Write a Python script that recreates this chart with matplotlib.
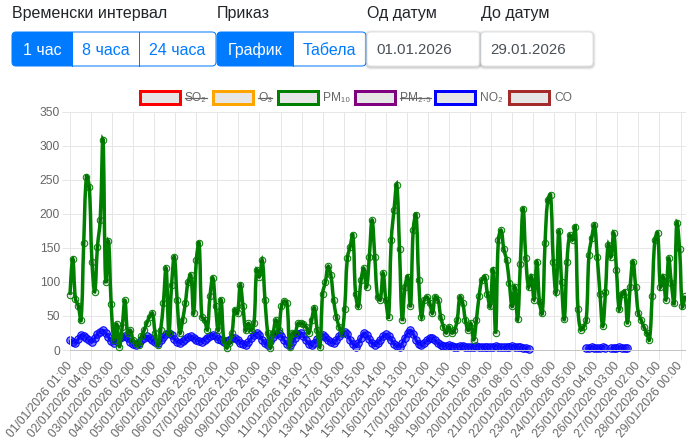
import numpy as np
import matplotlib
matplotlib.use('Agg')
import matplotlib.pyplot as plt
from matplotlib.path import Path
from matplotlib.patches import PathPatch, FancyBboxPatch, Rectangle
from matplotlib.lines import Line2D
from matplotlib.transforms import IdentityTransform

plt.rcParams['font.family'] = ['Liberation Sans', 'DejaVu Sans']

W, H = 686, 440
PT = 0.72  # 1 px u tackama (dpi 100)

# ---- podaci: jedna vrednost na svaka 3 sata (indeks = redni broj sata) ----
korak = 3
pm10 = [
    81, 134, 75, 65, 44, 158, 255, 240, 130, 86, 152, 191, 309, 100, 160,
    67, 15, 38, 5, 34, 73,
    25, 29, 15, 10, 7, 20, 29, 40, 49, 54, 25, 7, 29, 69,
    120, 25, 96, 137, 74, 25, 44, 69, 100, 110, 54, 132, 157,
    49, 44, 30, 80, 106, 64, 29, 74, 15, 3, 10, 25, 59,
    54, 96, 64, 29, 39, 29, 39, 118, 108, 132, 74, 25, 3, 25, 44,
    29, 64, 72, 69, 5, 25, 25, 39, 39, 38, 34, 25, 44, 62, 29, 5,
    83, 100, 123, 110, 74, 49, 34, 25,
    60, 135, 152, 169, 83, 64, 103, 120, 93, 137, 191, 137, 78, 74, 113, 74,
    49, 162, 206, 243, 148, 44, 93, 108, 64, 177, 199, 103, 48, 74, 78,
    69, 54, 78, 74, 49, 34, 25, 34, 25, 29, 44, 78, 69, 44, 29, 39, 15, 44,
    80, 103, 108, 83, 64, 118, 25, 162, 176, 148, 132, 98, 64, 93, 45, 127, 208,
    135, 93, 108, 74, 130, 70, 54, 157, 221, 228, 130, 85, 175, 100, 45,
    130, 169, 162, 181, 60, 30, 34, 44, 140, 165, 184, 137, 83, 35, 85,
    155, 137, 172, 118, 60, 83, 86, 40, 93, 130, 93, 54, 44, 34, 25,
    15, 80, 162, 172, 93, 108, 74, 135, 98, 69, 187, 148, 64, 80,
]

no2 = [
    15, 12, 10, 16, 22, 21, 18, 14,
    12, 17, 23, 27, 29, 25, 19, 13,
    10, 13, 17, 19, 20, 17, 12, 9,
    7, 11, 15, 18, 20, 18, 14, 12,
    10, 14, 19, 23, 25, 22, 16, 12,
    10, 13, 16, 19, 20, 18, 15, 13,
    12, 15, 18, 21, 22, 20, 16, 14,
    12, 13, 15, 17, 18, 15, 11, 9,
    7, 12, 17, 22, 25, 22, 15, 10,
    8, 13, 19, 23, 25, 21, 14, 9,
    7, 12, 18, 23, 25, 21, 14, 9,
    7, 11, 16, 20, 22, 19, 14, 12,
    10, 15, 21, 25, 27, 23, 15, 9,
    5, 10, 18, 25, 22, 16, 10, 7,
    10, 15, 20, 23, 21, 15, 9, 6,
    5, 10, 18, 25, 29, 24, 15, 9,
    7, 10, 14, 17, 18, 14, 10, 7,
    6, 6, 7, 6, 5, 5, 6, 6,
    5, 5, 4, 5, 6, 5, 5, 4,
    4, 5, 5, 6, 5, 4, 4, 5,
    5, 6, 5, 4, 4, 3, 3, 2,
    None, None, None, None, None, None, None, None, None, None,
    None, None, None, None, None, None, None, None, None, None,
    3, 3, 4, 3, 3, 3, 4, 3,
    None,
    3, 3, 3, 4, 3, 3, 3,
]

oznake = [
    '01/01/2026 01:00', '02/01/2026 04:00', '03/01/2026 03:00', '04/01/2026 02:00',
    '05/01/2026 01:00', '06/01/2026 00:00', '06/01/2026 23:00', '07/01/2026 22:00',
    '08/01/2026 21:00', '09/01/2026 20:00', '10/01/2026 19:00', '11/01/2026 18:00',
    '12/01/2026 17:00', '13/01/2026 16:00', '14/01/2026 15:00', '15/01/2026 14:00',
    '16/01/2026 13:00', '17/01/2026 12:00', '18/01/2026 11:00', '19/01/2026 10:00',
    '20/01/2026 09:00', '21/01/2026 08:00', '22/01/2026 07:00', '23/01/2026 06:00',
    '24/01/2026 05:00', '25/01/2026 04:00', '26/01/2026 03:00', '27/01/2026 02:00',
    '28/01/2026 01:00', '29/01/2026 00:00',
]
poz_oznaka = list(range(0, 23 * len(oznake), 23))

legenda = [
    ('SO₂', 'red', True), ('O₃', 'orange', True), ('PM₁₀', 'green', False),
    ('PM₂.₅', 'purple', True), ('NO₂', 'blue', False), ('CO', 'brown', False),
]
legenda_x = [140, 213, 278, 355, 435, 509]

fig = plt.figure(figsize=(W / 100, H / 100), dpi=100)
ID = IdentityTransform()

ax = fig.add_axes([70 / W, (H - 350) / H, (W - 70) / W, (350 - 112) / H])
ax.set_xlim(0, 673)
ax.set_ylim(0, 350)
ax.set_yticks(range(0, 351, 50))
ax.set_xticks(poz_oznaka)
ax.set_xticklabels(oznake, rotation=50, ha='right', va='center', rotation_mode='anchor')
ax.tick_params(axis='both', width=PT, color='#e6e6e6',
               labelsize=12 * PT, labelcolor='#666666',
               grid_color='#e6e6e6', grid_linewidth=PT)
ax.tick_params(axis='x', length=10 * PT, pad=4 * PT)
ax.tick_params(axis='y', length=8 * PT, pad=2 * PT)
ax.grid(True)
ax.set_axisbelow(True)
for s in ['top', 'right']:
    ax.spines[s].set_visible(False)
ax.spines['left'].set_color('#e6e6e6')
ax.spines['bottom'].set_color('#c4c4c4')
ax.spines['left'].set_linewidth(PT)
ax.spines['bottom'].set_linewidth(PT)


def kriva(xs, ys, t=0.4):
    # bezier kao u Chart.js (tension 0.4), racunato u pikselima
    p = ax.transData.transform(np.column_stack([xs, ys]))
    cp_pre = p.copy()
    cp_posle = p.copy()
    for i in range(1, len(p) - 1):
        d01 = np.hypot(*(p[i] - p[i - 1]))
        d12 = np.hypot(*(p[i + 1] - p[i]))
        if d01 + d12 == 0:
            continue
        cp_pre[i] = p[i] - t * d01 / (d01 + d12) * (p[i + 1] - p[i - 1])
        cp_posle[i] = p[i] + t * d12 / (d01 + d12) * (p[i + 1] - p[i - 1])
    verts = [p[0]]
    codes = [Path.MOVETO]
    for i in range(len(p) - 1):
        verts += [cp_posle[i], cp_pre[i + 1], p[i + 1]]
        codes += [Path.CURVE4] * 3
    return Path(ax.transData.inverted().transform(np.array(verts)), codes)


def serija(vals, boja, z, lw, ms, mfc):
    v = np.array([np.nan if a is None else a for a in vals], dtype=float)
    x = np.arange(len(v)) * korak
    ok = ~np.isnan(v)
    # razdvoji na neprekidne delove
    granice = np.flatnonzero(np.diff(np.r_[0, ok.astype(int), 0]))
    for a, b in zip(granice[::2], granice[1::2]):
        xs, ys = x[a:b], v[a:b]
        if len(xs) > 1:
            ax.add_patch(PathPatch(kriva(xs, ys), fc='none', ec=boja, lw=lw * PT,
                                   zorder=z, clip_on=False))
        ax.plot(xs, ys, 'o', ms=ms * PT, mec=boja, mfc=mfc, mew=PT,
                zorder=z + 0.1, clip_on=False)


serija(no2, 'blue', 2, 3, 7.5, (0.1, 0.1, 1, 0.55))
serija(pm10, 'green', 3, 3.5, 6.5, (0, 0, 0, 0.1))

# ---- legenda ----
fig.canvas.draw()
rend = fig.canvas.get_renderer()
for (ime, boja, skriven), bx in zip(legenda, legenda_x):
    fig.add_artist(Rectangle((bx, H - 104), 40, 13, fc='#e6e6e6', ec=boja,
                             lw=3 * PT, transform=ID))
    t = fig.text(bx + 45, H - 97.5, ime, transform=ID, fontsize=12 * PT,
                 color='#666666', va='center', ha='left')
    if skriven:
        bb = t.get_window_extent(rend)
        ym = (bb.y0 + bb.y1) / 2
        fig.add_artist(Line2D([bb.x0, bb.x1], [ym, ym], color='#666666',
                              lw=1.2 * PT, transform=ID))

# ---- kontrole iznad grafika ----
PLAVA = '#007bff'


def dugmad(delovi, aktivan):
    x0, x1 = delovi[0][0], delovi[-1][1]
    okvir = FancyBboxPatch((x0, H - 66), x1 - x0, 34,
                           boxstyle='round,pad=0,rounding_size=4',
                           fc='white', ec=PLAVA, lw=PT, transform=ID)
    fig.add_artist(okvir)
    for i, (a, b, tekst) in enumerate(delovi):
        if i == aktivan:
            r = Rectangle((a, H - 66), b - a, 34, fc=PLAVA, ec='none', transform=ID)
            fig.add_artist(r)
            r.set_clip_path(okvir)
        if i > 0:
            fig.add_artist(Line2D([a, a], [H - 66, H - 32], color=PLAVA, lw=PT,
                                  transform=ID))
        fig.text((a + b) / 2, H - 55, tekst, transform=ID, fontsize=16 * PT,
                 color='white' if i == aktivan else PLAVA, ha='center', va='baseline')


def polje(a, b, tekst):
    for k, al in [(3, 0.04), (2, 0.06), (1, 0.09)]:
        fig.add_artist(FancyBboxPatch((a - k, H - 66 - k - 1), b - a + 2 * k, 34 + 2 * k,
                                      boxstyle='round,pad=0,rounding_size=%d' % (4 + k),
                                      fc=(0, 0, 0, al), ec='none', transform=ID))
    fig.add_artist(FancyBboxPatch((a, H - 66), b - a, 34,
                                  boxstyle='round,pad=0,rounding_size=4',
                                  fc='white', ec='#dfe3e7', lw=PT, transform=ID))
    fig.text(a + 9, H - 54, tekst, transform=ID, fontsize=15 * PT,
             color='#495057', ha='left', va='baseline')


for x, naslov in [(12, 'Временски интервал'), (217, 'Приказ'),
                  (367, 'Од датум'), (481, 'До датум')]:
    fig.text(x, H - 18, naslov, transform=ID, fontsize=16 * PT,
             color='#212529', ha='left', va='baseline')

dugmad([(12, 72, '1 час'), (72, 139, '8 часа'), (139, 216, '24 часа')], 0)
dugmad([(217, 293, 'График'), (293, 366, 'Табела')], 0)
polje(367, 480, '01.01.2026')
polje(481, 593, '29.01.2026')

fig.savefig('out.png', dpi=100)
